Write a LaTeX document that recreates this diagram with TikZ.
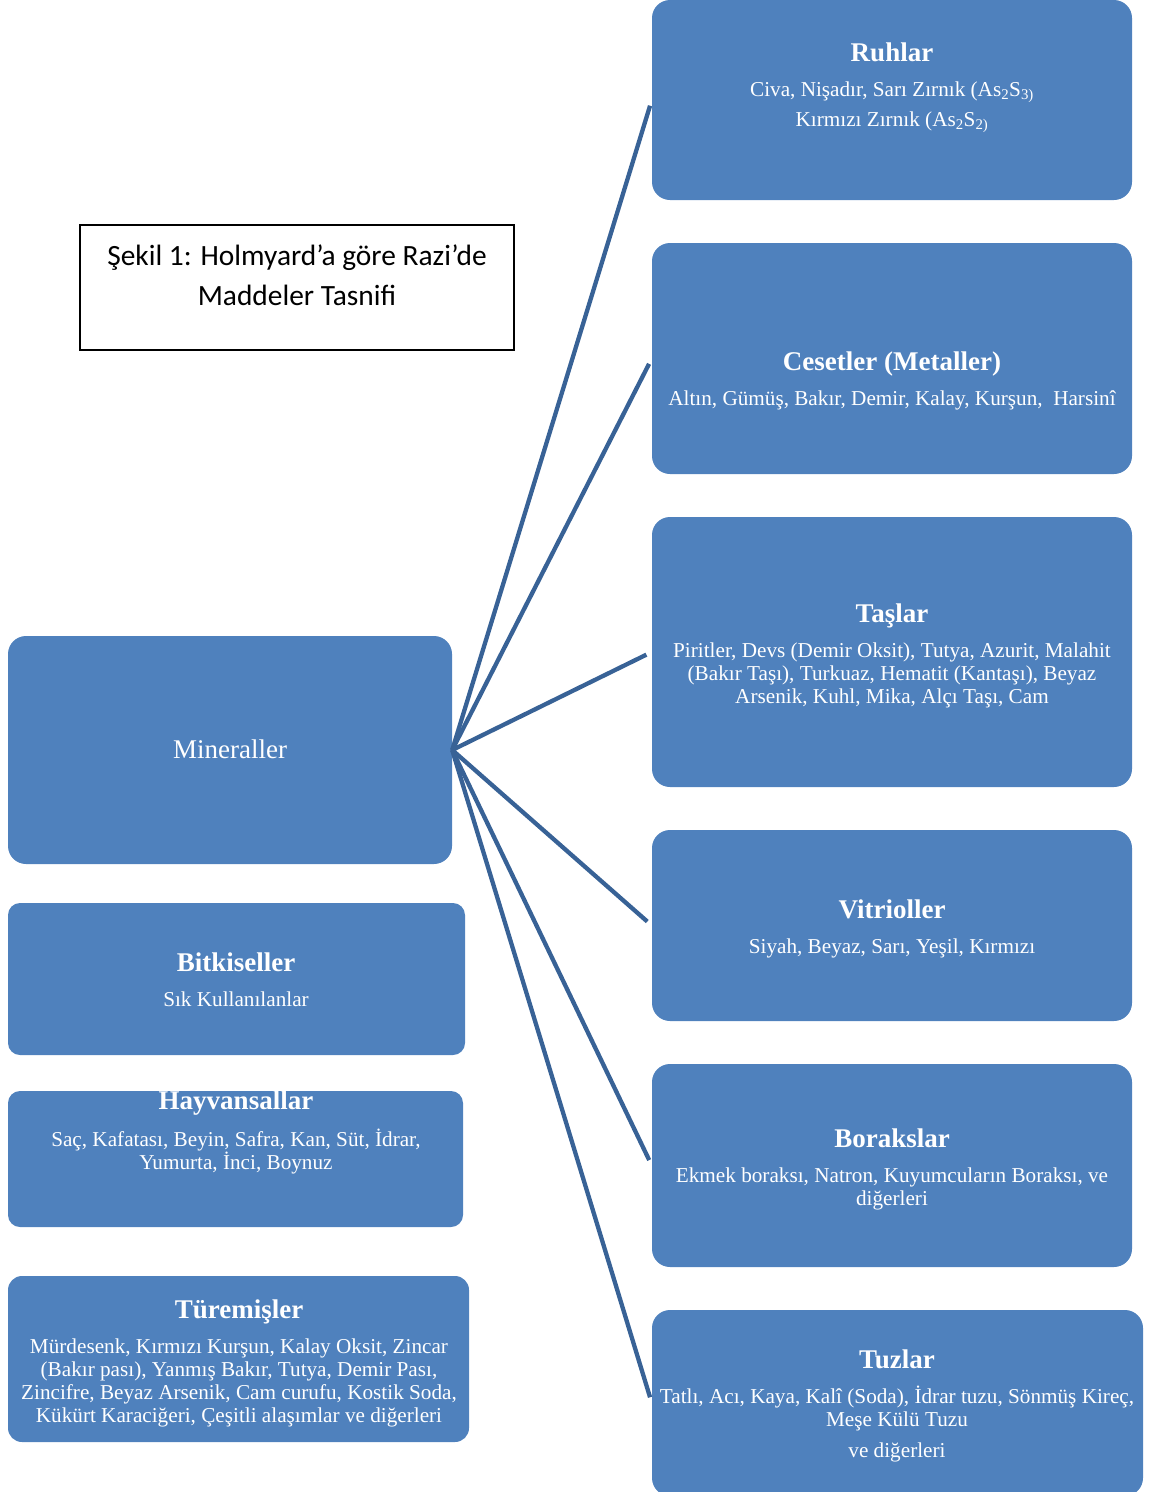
\documentclass[tikz,border=0pt]{standalone}
\usepackage{fontspec}
\setmainfont{Liberation Serif}
\newfontfamily\calibri{Carlito}
\definecolor{kutumavi}{RGB}{79,129,189}
\definecolor{cizgimavi}{RGB}{56,98,150}
\newcommand{\baslik}[1]{{\fontsize{27}{30}\selectfont\bfseries #1}}

\begin{document}
\begin{tikzpicture}[x=1pt,y=-1pt,
    kutu/.style={fill=kutumavi, rounded corners=18pt, inner sep=0pt},
    yazi/.style={text=white, align=center, anchor=north, inner sep=0pt, font=\fontsize{21.2}{22.8}\selectfont},
    baglanti/.style={draw=cizgimavi, line width=4.3pt, shorten >=6pt}]
            \useasboundingbox (0,0) rectangle (1156,1492);

            % sag taraf
            \node[kutu, minimum width=480pt, minimum height=200pt] (ruh) at (892,100) {};
            \node[kutu, minimum width=480pt, minimum height=231pt] (ces) at (892,358.5) {};
            \node[kutu, minimum width=480pt, minimum height=270pt] (tas) at (892,652) {};
            \node[kutu, minimum width=480pt, minimum height=191pt] (vit) at (892,925.5) {};
            \node[kutu, minimum width=480pt, minimum height=203pt] (bor) at (892,1165.5) {};
            \node[kutu, minimum width=491pt, minimum height=186pt] (tuz) at (897.5,1403) {};

            \node[yazi] (ruhT) at (892,43) {\baslik{Ruhlar}\\[12pt]
                Civa, Nişadır, Sarı Zırnık (As\textsubscript{2}S\textsubscript{3)}\\[7pt]
                Kırmızı Zırnık (As\textsubscript{2}S\textsubscript{2)}};
            \node[yazi] (cesT) at (892,352) {\baslik{Cesetler (Metaller)}\\[12pt]
                Altın, Gümüş, Bakır, Demir, Kalay, Kurşun,\ \ Harsinî};
            \node[yazi] (tasT) at (892,604) {\baslik{Taşlar}\\[12pt]
                Piritler, Devs (Demir Oksit), Tutya, Azurit, Malahit\\
                (Bakır Taşı), Turkuaz, Hematit (Kantaşı), Beyaz\\
                Arsenik, Kuhl, Mika, Alçı Taşı, Cam};
            \node[yazi] (vitT) at (892,900) {\baslik{Vitrioller}\\[12pt]
                Siyah, Beyaz, Sarı, Yeşil, Kırmızı};
            \node[yazi] (borT) at (892,1129) {\baslik{Borakslar}\\[12pt]
                Ekmek boraksı, Natron, Kuyumcuların Boraksı, ve\\
                diğerleri};
            \node[yazi] (tuzT) at (897,1350) {\baslik{Tuzlar}\\[12pt]
                Tatlı, Acı, Kaya, Kalî (Soda), İdrar tuzu, Sönmüş Kireç,\\
                Meşe Külü Tuzu\\[8pt]
                ve diğerleri};

            % sol taraf
            \node[kutu, minimum width=444pt, minimum height=228pt] (min) at (230,750) {};
            \node[kutu, rounded corners=12pt, minimum width=457pt, minimum height=152pt] (bit) at (236.5,979) {};
            \node[kutu, rounded corners=12pt, minimum width=455pt, minimum height=136pt] (hay) at (235.5,1159) {};
            \node[kutu, rounded corners=14pt, minimum width=461pt, minimum height=166pt] (tur) at (238.5,1359) {};

            \node[text=white, inner sep=0pt, font=\fontsize{27}{30}\selectfont] (minT) at (230,749) {Mineraller};
            \node[yazi] (bitT) at (236,953) {\baslik{Bitkiseller}\\[12pt]
                Sık Kullanılanlar};
            \node[yazi] (hayT) at (236,1091) {\baslik{Hayvansallar}\\[12pt]
                Saç, Kafatası, Beyin, Safra, Kan, Süt, İdrar,\\
                Yumurta, İnci, Boynuz};
            \node[yazi] (turT) at (239,1300) {\baslik{Türemişler}\\[12pt]
                Mürdesenk, Kırmızı Kurşun, Kalay Oksit, Zincar\\
                (Bakır pası), Yanmış Bakır, Tutya, Demir Pası,\\
                Zincifre, Beyaz Arsenik, Cam curufu, Kostik Soda,\\
                Kükürt Karaciğeri, Çeşitli alaşımlar ve diğerleri};

            % baslik kutusu
            \node[draw=black, line width=1.5pt, minimum width=434pt, minimum height=125pt] (sekil) at (297,287.5) {};
            \node[align=center, anchor=north, inner sep=0pt, font=\calibri\fontsize{29.4}{40}\selectfont] (sekilT) at (297,245)
                {Şekil 1: Holmyard’a göre Razi’de\\Maddeler Tasnifi};

            % baglantilar
            \draw[baglanti] (min.east) -- (ruh.west);
            \draw[baglanti] (min.east) -- (ces.west);
            \draw[baglanti] (min.east) -- (tas.west);
            \draw[baglanti] (min.east) -- (vit.west);
            \draw[baglanti] (min.east) -- (bor.west);
            \draw[baglanti] (min.east) -- (tuz.west);

\end{tikzpicture}
\end{document}
